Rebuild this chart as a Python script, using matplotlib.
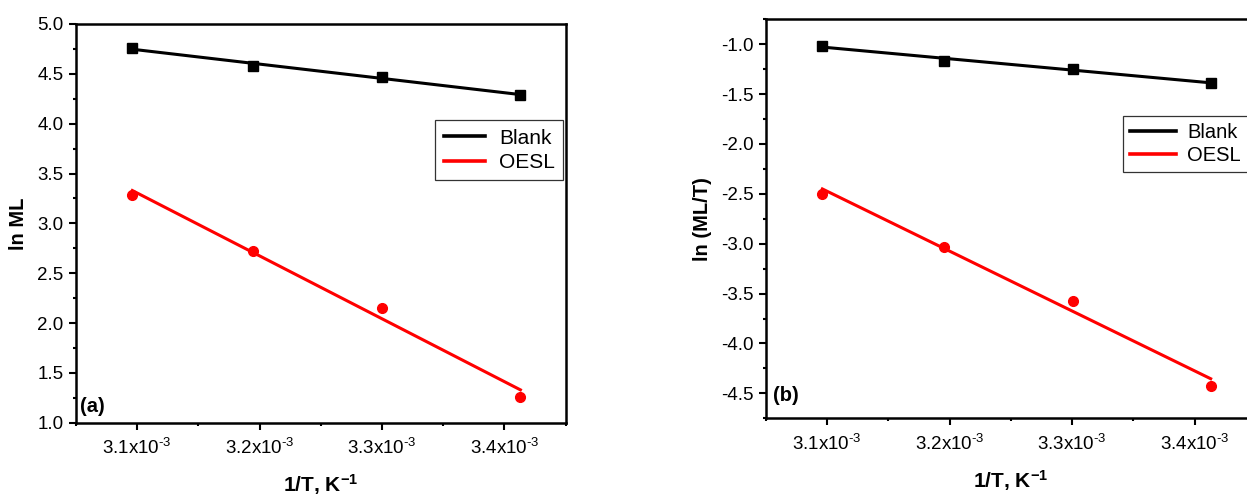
import numpy as np
import matplotlib
matplotlib.use("Agg")
import matplotlib.pyplot as plt
from matplotlib.ticker import FixedLocator, FixedFormatter, MultipleLocator, FormatStrFormatter

plt.rcParams['font.family'] = ['Liberation Sans', 'DejaVu Sans']
plt.rcParams['mathtext.fontset'] = 'custom'
plt.rcParams['mathtext.rm'] = 'Liberation Sans'
plt.rcParams['mathtext.bf'] = 'Liberation Sans:bold'
plt.rcParams['mathtext.default'] = 'regular'

# ---- data ----
inv_T = [3.0960e-3, 3.1949e-3, 3.3003e-3, 3.4130e-3]
lnML_blank = [4.757, 4.583, 4.467, 4.290]
lnML_oesl = [3.283, 2.718, 2.147, 1.257]
lnMLT_blank = [-1.017, -1.164, -1.246, -1.388]
lnMLT_oesl = [-2.497, -3.030, -3.574, -4.424]
series_names = ["Blank", "OESL"]
xtick_values = [3.1e-3, 3.2e-3, 3.3e-3, 3.4e-3]
xtick_labels = [r"3.1x10$^{\text{-3}}$", r"3.2x10$^{\text{-3}}$",
                r"3.3x10$^{\text{-3}}$", r"3.4x10$^{\text{-3}}$"]

W, H = 1247, 498
fig = plt.figure(figsize=(W / 100, H / 100), dpi=100)

ax_a = fig.add_axes([76 / W, (H - 422.7) / H, 489.7 / W, 398.7 / H])
ax_b = fig.add_axes([766 / W, (H - 418.3) / H, 490 / W, 399 / H])


def style_axes(ax, ylim, ymajor, yminor):
    ax.set_xlim(3.05e-3, 3.45e-3)
    ax.set_ylim(*ylim)
    ax.xaxis.set_major_locator(FixedLocator(xtick_values))
    ax.xaxis.set_major_formatter(FixedFormatter(xtick_labels))
    ax.xaxis.set_minor_locator(MultipleLocator(0.05e-3))
    ax.yaxis.set_major_locator(MultipleLocator(ymajor))
    ax.yaxis.set_minor_locator(MultipleLocator(yminor))
    ax.yaxis.set_major_formatter(FormatStrFormatter('%.1f'))
    for sp in ax.spines.values():
        sp.set_linewidth(1.8)
        sp.set_color('black')
    ax.tick_params(axis='both', which='major', direction='out', length=5, width=1.5,
                   labelsize=13.5, colors='black')
    ax.tick_params(axis='both', which='minor', direction='out', length=2.5, width=1.5)
    ax.tick_params(axis='x', which='major', pad=6)
    ax.tick_params(axis='y', which='major', pad=4)


def draw(ax, yb, yo):
    x = np.array(inv_T)
    for ys, color, marker, ms, name in [(yb, 'black', 's', 6.5, series_names[0]),
                                        (yo, 'red', 'o', 7, series_names[1])]:
        ys = np.array(ys)
        k, b = np.polyfit(x, ys, 1)
        xf = np.array([x[0], x[-1]])
        ax.plot(xf, k * xf + b, color=color, lw=2.2, label=name, zorder=2)
        ax.plot(x, ys, linestyle='none', marker=marker, color=color, ms=ms, zorder=3)


draw(ax_a, lnML_blank, lnML_oesl)
draw(ax_b, lnMLT_blank, lnMLT_oesl)

style_axes(ax_a, (1.0, 5.0), 0.5, 0.25)
style_axes(ax_b, (-4.75, -0.75), 0.5, 0.25)

ax_a.set_ylabel("ln ML", fontsize=14.5, fontweight='bold', va='center')
ax_a.yaxis.set_label_coords(-0.118, 0.5)
ax_b.set_ylabel("ln (ML/T)", fontsize=14.5, fontweight='bold', va='center')
ax_b.yaxis.set_label_coords(-0.129, 0.5)

for ax in (ax_a, ax_b):
    ax.set_xlabel(r"1/T, K$^{\mathbf{-1}}$", fontsize=15, fontweight='bold', va='center')
    ax.xaxis.set_label_coords(0.5, -0.155)

ax_a.text(0.008, 0.04, "(a)", transform=ax_a.transAxes, fontsize=14.5, fontweight='bold',
          ha='left', va='center')
ax_b.text(0.014, 0.058, "(b)", transform=ax_b.transAxes, fontsize=14.5, fontweight='bold',
          ha='left', va='center')

leg_a = ax_a.legend(loc='upper right', bbox_to_anchor=(0.9945, 0.7585), fontsize=15,
                    frameon=True, fancybox=False, edgecolor='black', handlelength=2.0,
                    handletextpad=0.65, borderpad=0.4, labelspacing=0.25, borderaxespad=0)
leg_a.get_frame().set_linewidth(0.9)
for ln in leg_a.get_lines():
    ln.set_linewidth(2.6)
leg_b = ax_b.legend(loc='upper left', bbox_to_anchor=(0.7286, 0.7576), fontsize=14.5,
                    frameon=True, fancybox=False, edgecolor='black', handlelength=2.3,
                    handletextpad=0.55, borderpad=0.35, labelspacing=0.2, borderaxespad=0)
leg_b.get_frame().set_linewidth(0.9)
for ln in leg_b.get_lines():
    ln.set_linewidth(2.6)

fig.savefig("out.png", dpi=100)
